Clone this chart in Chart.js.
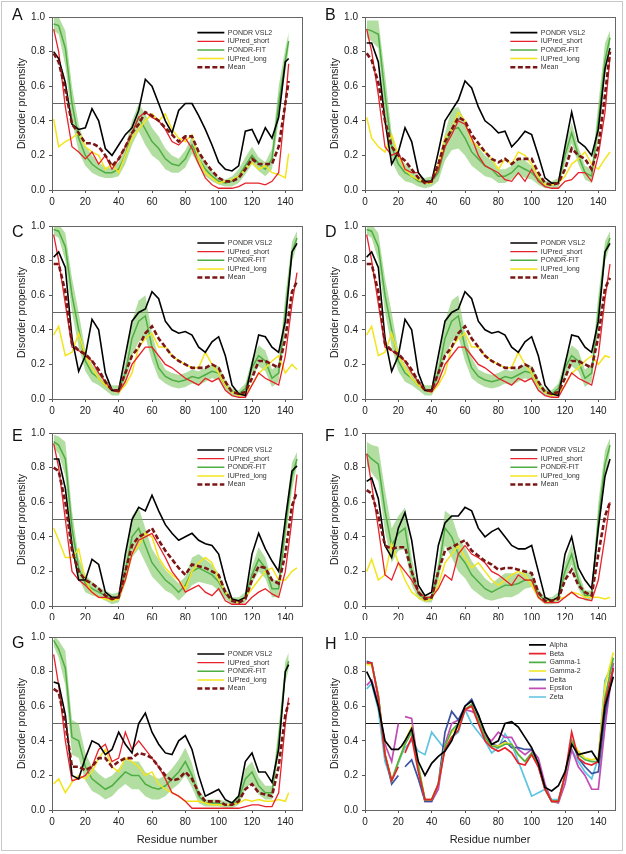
<!DOCTYPE html>
<html>
<head>
<meta charset="utf-8">
<script src="https://cdn.jsdelivr.net/npm/chart.js"></script>
<style>
  body { margin: 0; background: #fff; }
  #figure { position: relative; width: 626px; height: 854px; overflow: hidden; }
  #frame { position: absolute; left: 1px; top: 1px; width: 622px; height: 850px; border: 1px solid #c8c8c8; box-sizing: border-box; }
  #figure canvas { position: absolute; }
</style>
</head>
<body>
<div id="figure"><div id="frame"></div></div>
<script>
// ---- residue grids (x values) ----
const residues142 = [1,4,8,12,16,20,24,28,32,36,40,44,48,52,56,60,64,68,72,76,80,84,88,92,96,100,104,108,112,116,120,124,128,132,136,140,142];
const residues147 = [1,4,8,12,16,20,24,28,32,36,40,44,48,52,56,60,64,68,72,76,80,84,88,92,96,100,104,108,112,116,120,124,128,132,136,140,144,147];
const residuesH = [1,4,8,12,16,20,22,24,28,32,36,40,44,48,52,56,60,64,68,72,76,80,84,88,92,96,100,104,108,112,116,120,124,128,132,136,140,144,149];

const xTickValues = [0,20,40,60,80,100,120,140];
const yTickValues = [0,0.2,0.4,0.6,0.8,1.0];
const thresholdX = [0,150];
const threshold = 0.5;

// ---- panel A ----
const vsl2A = [0.80,0.76,0.62,0.38,0.35, 0.36,0.47,0.40,0.24,0.20, 0.26,0.32,0.36,0.46,0.64, 0.60,0.50,0.40,0.33,0.46, 0.50,0.50,0.43,0.35,0.26, 0.16,0.12,0.11,0.14,0.34, 0.35,0.27,0.36,0.30,0.42, 0.74,0.76];
const iupShortA = [0.93,0.80,0.48,0.25,0.22, 0.18,0.22,0.15,0.20,0.12, 0.18,0.25,0.33,0.42,0.45, 0.42,0.40,0.35,0.28,0.26, 0.30,0.24,0.15,0.07,0.03, 0.01,0.01,0.01,0.02,0.04, 0.04,0.04,0.03,0.05,0.10, 0.50,0.73];
const fitA = [0.96,0.95,0.82,0.50,0.30, 0.20,0.15,0.12,0.10,0.10, 0.12,0.20,0.33,0.42,0.35, 0.28,0.24,0.18,0.15,0.14, 0.18,0.26,0.18,0.12,0.08, 0.05,0.04,0.05,0.08,0.14, 0.20,0.15,0.12,0.18,0.50, 0.75,0.86];
const fitErrA = [0.04,0.05,0.10,0.10,0.08, 0.06,0.05,0.04,0.03,0.03, 0.04,0.05,0.07,0.08,0.09, 0.08,0.07,0.06,0.05,0.04, 0.05,0.05,0.04,0.04,0.03, 0.02,0.02,0.03,0.04,0.05, 0.05,0.04,0.04,0.06,0.10, 0.07,0.05];
const iupLongA = [0.41,0.25,0.28,0.30,0.33, 0.25,0.22,0.20,0.12,0.15, 0.10,0.20,0.30,0.35,0.40, 0.44,0.40,0.44,0.35,0.30, 0.28,0.32,0.18,0.10,0.07, 0.04,0.05,0.06,0.08,0.12, 0.16,0.12,0.14,0.10,0.09, 0.07,0.21];
const meanA = [0.79,0.74,0.58,0.38,0.33, 0.27,0.27,0.25,0.20,0.14, 0.18,0.25,0.33,0.38,0.45, 0.43,0.40,0.36,0.32,0.28, 0.31,0.31,0.22,0.16,0.11, 0.07,0.05,0.05,0.07,0.12, 0.18,0.15,0.15,0.15,0.25, 0.50,0.63];

// ---- panel B ----
const vsl2B = [0.85,0.85,0.74,0.40,0.15, 0.22,0.36,0.28,0.10,0.05, 0.05,0.22,0.40,0.46,0.52, 0.63,0.59,0.48,0.40,0.37, 0.33,0.34,0.25,0.29,0.34, 0.32,0.20,0.07,0.04,0.04, 0.25,0.45,0.28,0.25,0.20, 0.35,0.70,0.82];
const iupShortB = [0.93,0.80,0.55,0.25,0.20, 0.22,0.12,0.10,0.10,0.04, 0.05,0.12,0.25,0.32,0.40, 0.38,0.30,0.20,0.14,0.12, 0.10,0.06,0.05,0.10,0.05, 0.12,0.05,0.02,0.01,0.01, 0.05,0.06,0.10,0.10,0.05, 0.20,0.45,0.77];
const fitB = [0.93,0.92,0.90,0.55,0.25, 0.15,0.10,0.08,0.05,0.04, 0.05,0.10,0.25,0.35,0.36, 0.30,0.22,0.18,0.14,0.12, 0.08,0.08,0.10,0.14,0.12, 0.10,0.06,0.03,0.03,0.04, 0.20,0.33,0.20,0.10,0.08, 0.40,0.75,0.88];
const fitErrB = [0.05,0.06,0.08,0.12,0.08, 0.06,0.05,0.04,0.03,0.03, 0.03,0.05,0.08,0.12,0.12, 0.10,0.08,0.07,0.06,0.05, 0.04,0.04,0.04,0.05,0.05, 0.04,0.03,0.02,0.02,0.03, 0.05,0.06,0.05,0.04,0.04, 0.10,0.10,0.04];
const iupLongB = [0.42,0.30,0.25,0.22,0.32, 0.20,0.12,0.08,0.06,0.04, 0.04,0.15,0.30,0.35,0.45, 0.40,0.28,0.25,0.22,0.18, 0.12,0.18,0.15,0.22,0.20, 0.15,0.08,0.03,0.03,0.04, 0.08,0.15,0.18,0.22,0.15, 0.12,0.18,0.22];
const meanB = [0.79,0.75,0.62,0.40,0.25, 0.20,0.17,0.12,0.07,0.04, 0.05,0.15,0.28,0.35,0.42, 0.40,0.32,0.27,0.22,0.18, 0.16,0.18,0.15,0.18,0.18, 0.18,0.10,0.04,0.03,0.04, 0.12,0.24,0.20,0.18,0.12, 0.25,0.55,0.80];

// ---- panel C ----
const vsl2C = [0.82,0.85,0.76,0.35,0.16, 0.25,0.46,0.40,0.15,0.05, 0.05,0.25,0.45,0.50,0.52, 0.62,0.58,0.45,0.40,0.38, 0.39,0.37,0.30,0.27,0.33, 0.36,0.25,0.08,0.03,0.02, 0.20,0.37,0.36,0.30,0.27, 0.45,0.85,0.90];
const iupShortC = [0.95,0.80,0.55,0.30,0.28, 0.25,0.22,0.15,0.10,0.05, 0.04,0.10,0.20,0.25,0.30, 0.30,0.25,0.20,0.18,0.15, 0.12,0.10,0.08,0.12,0.10, 0.12,0.05,0.02,0.01,0.01, 0.08,0.15,0.12,0.10,0.08, 0.25,0.55,0.73];
const fitC = [0.98,0.97,0.88,0.60,0.40, 0.22,0.15,0.12,0.08,0.05, 0.05,0.15,0.35,0.45,0.48, 0.30,0.18,0.13,0.11,0.10, 0.11,0.13,0.12,0.14,0.16, 0.15,0.08,0.04,0.03,0.06, 0.18,0.25,0.22,0.12,0.15, 0.50,0.85,0.93];
const fitErrC = [0.03,0.04,0.08,0.10,0.10, 0.06,0.05,0.04,0.03,0.03, 0.03,0.06,0.10,0.12,0.12, 0.08,0.06,0.04,0.04,0.04, 0.04,0.04,0.04,0.04,0.04, 0.04,0.03,0.02,0.02,0.03, 0.05,0.06,0.06,0.05,0.05, 0.10,0.06,0.04];
const iupLongC = [0.37,0.42,0.25,0.27,0.38, 0.25,0.18,0.12,0.08,0.05, 0.04,0.08,0.15,0.30,0.35, 0.38,0.30,0.30,0.25,0.22, 0.20,0.18,0.18,0.27,0.20, 0.15,0.08,0.04,0.02,0.03, 0.08,0.15,0.18,0.22,0.25, 0.15,0.20,0.17];
const meanC = [0.78,0.78,0.62,0.32,0.28, 0.26,0.22,0.17,0.10,0.05, 0.05,0.15,0.25,0.30,0.38, 0.42,0.35,0.30,0.25,0.22, 0.20,0.18,0.18,0.18,0.20, 0.18,0.10,0.04,0.03,0.04, 0.12,0.22,0.22,0.20,0.18, 0.35,0.62,0.68];

// ---- panel D ----
const vsl2D = [0.82,0.85,0.76,0.35,0.16, 0.25,0.46,0.40,0.15,0.05, 0.05,0.25,0.45,0.50,0.52, 0.62,0.58,0.45,0.40,0.38, 0.39,0.37,0.30,0.27,0.33, 0.36,0.25,0.08,0.03,0.02, 0.20,0.37,0.36,0.30,0.27, 0.45,0.85,0.90];
const iupShortD = [0.95,0.80,0.55,0.30,0.28, 0.25,0.22,0.15,0.10,0.05, 0.04,0.10,0.20,0.25,0.30, 0.30,0.25,0.20,0.18,0.15, 0.12,0.10,0.08,0.12,0.10, 0.12,0.05,0.02,0.01,0.01, 0.08,0.15,0.12,0.10,0.08, 0.25,0.58,0.78];
const fitD = [0.98,0.97,0.88,0.60,0.40, 0.22,0.15,0.12,0.08,0.05, 0.05,0.15,0.35,0.45,0.48, 0.30,0.18,0.13,0.11,0.10, 0.11,0.13,0.12,0.14,0.16, 0.15,0.08,0.04,0.03,0.06, 0.18,0.25,0.22,0.12,0.15, 0.50,0.85,0.93];
const fitErrD = [0.03,0.04,0.08,0.10,0.10, 0.06,0.05,0.04,0.03,0.03, 0.03,0.06,0.10,0.12,0.12, 0.08,0.06,0.04,0.04,0.04, 0.04,0.04,0.04,0.04,0.04, 0.04,0.03,0.02,0.02,0.03, 0.05,0.06,0.06,0.05,0.05, 0.10,0.06,0.04];
const iupLongD = [0.37,0.42,0.25,0.27,0.38, 0.25,0.18,0.12,0.08,0.05, 0.04,0.08,0.15,0.30,0.35, 0.38,0.30,0.30,0.25,0.22, 0.20,0.18,0.18,0.27,0.20, 0.15,0.08,0.04,0.02,0.03, 0.08,0.15,0.18,0.22,0.25, 0.20,0.25,0.24];
const meanD = [0.78,0.78,0.62,0.32,0.28, 0.26,0.22,0.17,0.10,0.05, 0.05,0.15,0.25,0.30,0.38, 0.42,0.35,0.30,0.25,0.22, 0.20,0.18,0.18,0.18,0.20, 0.18,0.10,0.04,0.03,0.04, 0.12,0.22,0.22,0.20,0.18, 0.36,0.64,0.70];

// ---- panel E ----
const vsl2E = [0.85,0.85,0.68,0.35,0.15, 0.15,0.27,0.24,0.08,0.05, 0.05,0.30,0.50,0.57,0.55, 0.64,0.55,0.47,0.42,0.38, 0.40,0.42,0.38,0.36,0.35, 0.30,0.15,0.04,0.03,0.05, 0.30,0.42,0.33,0.26,0.20, 0.50,0.78,0.81];
const iupShortE = [0.94,0.80,0.50,0.20,0.15, 0.12,0.08,0.05,0.05,0.04, 0.05,0.15,0.30,0.38,0.40, 0.42,0.35,0.28,0.20,0.15, 0.08,0.10,0.12,0.08,0.06, 0.10,0.03,0.01,0.01,0.01, 0.05,0.08,0.10,0.07,0.05, 0.20,0.50,0.76];
const fitE = [0.95,0.93,0.85,0.45,0.22, 0.13,0.10,0.08,0.06,0.04, 0.05,0.20,0.40,0.45,0.35, 0.25,0.20,0.15,0.12,0.08, 0.12,0.20,0.22,0.20,0.18, 0.14,0.07,0.03,0.03,0.05, 0.18,0.27,0.22,0.10,0.10, 0.45,0.75,0.85];
const fitErrE = [0.04,0.05,0.10,0.10,0.06, 0.05,0.04,0.03,0.03,0.03, 0.03,0.07,0.12,0.12,0.10, 0.08,0.07,0.06,0.05,0.05, 0.05,0.08,0.08,0.07,0.06, 0.05,0.03,0.02,0.02,0.03, 0.05,0.07,0.06,0.05,0.05, 0.08,0.08,0.04];
const iupLongE = [0.45,0.38,0.28,0.28,0.33, 0.15,0.08,0.05,0.04,0.03, 0.04,0.15,0.30,0.35,0.42, 0.40,0.28,0.22,0.18,0.15, 0.10,0.20,0.25,0.28,0.25, 0.15,0.08,0.03,0.02,0.05, 0.10,0.15,0.20,0.22,0.15, 0.15,0.20,0.22];
const meanE = [0.80,0.78,0.60,0.32,0.20, 0.15,0.13,0.10,0.06,0.04, 0.05,0.20,0.35,0.40,0.42, 0.45,0.38,0.32,0.27,0.22, 0.18,0.24,0.23,0.22,0.20, 0.18,0.08,0.03,0.02,0.04, 0.15,0.23,0.22,0.15,0.13, 0.30,0.58,0.66];

// ---- panel F ----
const vsl2F = [0.72,0.74,0.62,0.35,0.28, 0.45,0.54,0.38,0.12,0.06, 0.08,0.35,0.48,0.52,0.52, 0.57,0.55,0.45,0.40,0.43, 0.45,0.40,0.35,0.33,0.33, 0.35,0.20,0.05,0.03,0.05, 0.30,0.40,0.22,0.15,0.10, 0.45,0.75,0.85];
const iupShortF = [0.88,0.70,0.45,0.18,0.15, 0.25,0.20,0.15,0.08,0.05, 0.05,0.10,0.18,0.15,0.30, 0.35,0.30,0.28,0.25,0.20, 0.18,0.15,0.12,0.18,0.15, 0.15,0.05,0.02,0.02,0.02, 0.05,0.08,0.05,0.04,0.03, 0.15,0.40,0.60];
const fitF = [0.88,0.85,0.82,0.55,0.35, 0.42,0.45,0.20,0.07,0.04, 0.04,0.20,0.45,0.40,0.30, 0.25,0.18,0.14,0.10,0.08, 0.10,0.12,0.12,0.13,0.15, 0.15,0.07,0.03,0.03,0.05, 0.20,0.30,0.15,0.06,0.06, 0.50,0.82,0.93];
const fitErrF = [0.07,0.08,0.10,0.12,0.10, 0.10,0.12,0.08,0.03,0.02, 0.02,0.06,0.10,0.12,0.10, 0.09,0.08,0.07,0.06,0.05, 0.06,0.07,0.07,0.06,0.05, 0.04,0.03,0.02,0.02,0.03, 0.05,0.06,0.05,0.03,0.03, 0.10,0.08,0.04];
const iupLongF = [0.20,0.27,0.15,0.18,0.36, 0.25,0.15,0.08,0.05,0.03, 0.04,0.12,0.25,0.30,0.35, 0.28,0.22,0.25,0.20,0.15, 0.12,0.15,0.18,0.20,0.18, 0.12,0.05,0.02,0.03,0.04, 0.05,0.08,0.07,0.05,0.05, 0.05,0.04,0.05];
const meanF = [0.67,0.65,0.52,0.35,0.33, 0.34,0.34,0.20,0.08,0.04, 0.05,0.20,0.32,0.34,0.36, 0.38,0.32,0.29,0.26,0.24, 0.21,0.22,0.22,0.21,0.20, 0.19,0.08,0.03,0.03,0.04, 0.15,0.21,0.12,0.08,0.06, 0.30,0.52,0.60];

// ---- panel G ----
const vsl2G = [0.74,0.73,0.55,0.20,0.18, 0.30,0.40,0.38,0.32,0.35, 0.45,0.38,0.33,0.50,0.56, 0.45,0.38,0.33,0.32,0.40, 0.43,0.35,0.20,0.08,0.10, 0.12,0.06,0.04,0.08,0.28, 0.33,0.22,0.22,0.16,0.35, 0.80,0.84];
const iupShortG = [0.90,0.72,0.40,0.17,0.18, 0.20,0.25,0.35,0.38,0.28, 0.30,0.45,0.35,0.40,0.35, 0.30,0.25,0.18,0.10,0.08, 0.05,0.01,0.01,0.01,0.01, 0.01,0.01,0.01,0.01,0.02, 0.03,0.03,0.02,0.02,0.10, 0.50,0.65];
const fitG = [0.98,0.93,0.82,0.42,0.40, 0.25,0.18,0.15,0.12,0.14, 0.18,0.22,0.20,0.20,0.15, 0.13,0.12,0.14,0.18,0.22, 0.28,0.20,0.08,0.04,0.04, 0.04,0.03,0.03,0.06,0.18, 0.22,0.14,0.10,0.10,0.40, 0.80,0.86];
const fitErrG = [0.03,0.05,0.10,0.10,0.10, 0.08,0.07,0.06,0.06,0.06, 0.06,0.07,0.08,0.08,0.07, 0.07,0.06,0.06,0.06,0.07, 0.08,0.07,0.04,0.02,0.02, 0.02,0.02,0.02,0.03,0.06, 0.06,0.05,0.04,0.04,0.08, 0.06,0.05];
const iupLongG = [0.15,0.18,0.10,0.16,0.20, 0.18,0.22,0.30,0.35,0.25, 0.22,0.30,0.28,0.25,0.20, 0.22,0.15,0.12,0.10,0.08, 0.05,0.05,0.05,0.04,0.03, 0.03,0.03,0.03,0.04,0.06, 0.05,0.06,0.05,0.05,0.06, 0.05,0.10];
const meanG = [0.70,0.68,0.50,0.25,0.25, 0.23,0.25,0.30,0.30,0.25, 0.28,0.30,0.30,0.33,0.32, 0.30,0.25,0.20,0.17,0.18, 0.22,0.18,0.10,0.05,0.05, 0.05,0.03,0.03,0.05,0.12, 0.15,0.10,0.09,0.08,0.25, 0.55,0.62];

// ---- panel H (null = alignment gap) ----
const alphaH = [0.80,0.74,0.60,0.40,0.35, 0.35,0.37,0.40,0.47,0.28, 0.20,0.27,0.31,0.34,0.40, 0.50,0.60,0.63,0.55,0.45, 0.38,0.40,0.50,0.51,0.48, 0.42,0.36,0.27,0.13,0.11, 0.14,0.22,0.38,0.32,0.33, 0.34,0.28,0.60,0.77];
const betaH = [0.85,0.85,0.65,0.32,0.17, 0.25,null,0.33,0.42,0.22, 0.06,0.06,0.15,0.35,0.42, 0.46,0.58,0.60,0.50,0.40, 0.36,0.34,0.36,0.33,0.27, 0.26,0.32,0.25,0.12,0.05, 0.05,0.20,0.45,0.30,0.27, 0.26,0.28,0.62,0.82];
const gamma1H = [0.85,0.85,0.66,0.32,0.17, 0.28,0.33,0.38,0.45,0.25, 0.06,0.06,0.15,0.37,0.46, 0.50,0.58,0.61,0.52,0.42, 0.37,0.36,0.38,0.38,0.32, 0.28,0.33,0.26,0.12,0.05, 0.05,0.20,0.40,0.32,0.29, 0.28,0.28,0.65,0.88];
const gamma2H = [0.84,0.84,0.66,0.33,0.17, 0.28,0.33,0.40,0.48,0.26, 0.06,0.06,0.15,0.37,0.45, 0.48,0.58,0.60,0.52,0.42, 0.37,0.37,0.39,0.38,0.32, 0.28,0.32,0.26,0.12,0.05, 0.05,0.20,0.40,0.34,0.30, 0.29,0.30,0.72,0.91];
const deltaH = [0.86,0.85,0.66,0.32,0.15, 0.20,null,0.25,0.29,0.18, 0.05,0.05,0.15,0.45,0.57, 0.52,0.60,0.64,0.55,0.42, 0.38,0.37,0.40,0.36,0.36, 0.35,0.35,0.26,0.12,0.05, 0.05,0.20,0.40,0.30,0.25, 0.21,0.22,0.55,0.82];
const epsilonH = [0.72,0.75,0.62,0.38,0.28, 0.50,null,0.54,0.53,0.25, 0.05,0.05,0.12,0.38,0.50, 0.52,0.58,0.57,0.55,0.43, 0.40,0.45,0.42,0.42,0.35, 0.32,0.35,0.30,0.15,0.05, 0.04,0.15,0.35,0.25,0.20, 0.12,0.12,0.48,0.85];
const zetaH = [0.70,0.73,0.58,0.28,0.17, 0.27,0.32,0.36,0.40,0.34, 0.32,0.45,0.40,0.35,0.42, 0.45,0.58,0.50,0.45,0.40, 0.33,0.36,0.44,0.38,0.28, 0.18,0.08,0.10,0.12,0.06, 0.06,0.20,0.35,0.28,0.22, 0.18,0.30,0.75,0.85];

// ---- panels ----
const predictorPanels = [
  { letter: 'A', col: 0, row: 0, res: residues142, vsl2: vsl2A, iupShort: iupShortA, fit: fitA, fitErr: fitErrA, iupLong: iupLongA, mean: meanA },
  { letter: 'B', col: 1, row: 0, res: residues147, vsl2: vsl2B, iupShort: iupShortB, fit: fitB, fitErr: fitErrB, iupLong: iupLongB, mean: meanB },
  { letter: 'C', col: 0, row: 1, res: residues147, vsl2: vsl2C, iupShort: iupShortC, fit: fitC, fitErr: fitErrC, iupLong: iupLongC, mean: meanC },
  { letter: 'D', col: 1, row: 1, res: residues147, vsl2: vsl2D, iupShort: iupShortD, fit: fitD, fitErr: fitErrD, iupLong: iupLongD, mean: meanD },
  { letter: 'E', col: 0, row: 2, res: residues147, vsl2: vsl2E, iupShort: iupShortE, fit: fitE, fitErr: fitErrE, iupLong: iupLongE, mean: meanE },
  { letter: 'F', col: 1, row: 2, res: residues147, vsl2: vsl2F, iupShort: iupShortF, fit: fitF, fitErr: fitErrF, iupLong: iupLongF, mean: meanF },
  { letter: 'G', col: 0, row: 3, res: residues142, vsl2: vsl2G, iupShort: iupShortG, fit: fitG, fitErr: fitErrG, iupLong: iupLongG, mean: meanG }
];
const variantSeries = [
  { label: 'Alpha', data: alphaH },
  { label: 'Beta', data: betaH },
  { label: 'Gamma-1', data: gamma1H },
  { label: 'Gamma-2', data: gamma2H },
  { label: 'Delta', data: deltaH },
  { label: 'Epsilon', data: epsilonH },
  { label: 'Zeta', data: zetaH }
];

// ---- styling / layout ----
const variantColors = ['#000000', '#e8222a', '#4fb047', '#f2e41a', '#3a52a2', '#c24cb6', '#5cc3e0'];
const FONT = "'Liberation Sans', Arial, sans-serif";
Chart.defaults.font.family = FONT;
Chart.defaults.font.size = 10;
Chart.defaults.color = '#222';
Chart.defaults.animation = false;

const colLeft = [0, 313];
const rowTop = [0, 209, 416, 620];
const rowHeight = [209, 207, 204, 234];
const letterY = [16, 24, 21, 24];
const PLOT_TOP = 17, PLOT_H = 173, Y_AXIS_W = 52, PAD_RIGHT = 11;

const fig = document.getElementById('figure');
const pts = (res, vals) => res.map((x, i) => ({ x: x, y: vals[i] }));

// box around plot area
const framePlugin = {
  id: 'frame',
  afterDatasetsDraw(chart) {
    const { ctx, chartArea: a } = chart;
    ctx.save();
    ctx.strokeStyle = '#666';
    ctx.lineWidth = 1;
    ctx.strokeRect(Math.round(a.left) + 0.5, Math.round(a.top) + 0.5, Math.round(a.width), Math.round(a.height));
    ctx.restore();
  }
};

const letterPlugin = (letter, y) => ({
  id: 'panelLetter',
  afterDraw(chart) {
    const ctx = chart.ctx;
    ctx.save();
    ctx.font = '16px ' + FONT;
    ctx.fillStyle = '#111';
    ctx.textBaseline = 'middle';
    ctx.fillText(letter, 12, y);
    ctx.restore();
  }
});

// move the in-plot legend to the upper right
const legendPlacer = (dx, dy) => ({
  id: 'legendPlacer',
  afterLayout(chart) {
    const lg = chart.legend, a = chart.chartArea;
    lg.left = a.left + dx; lg.right = lg.left + 200;
    lg.top = a.top + dy; lg.bottom = lg.top + 160;
  }
});

function line(label, data, color, width, order) {
  return { label, data, borderColor: color, backgroundColor: color, borderWidth: width,
           pointRadius: 0, tension: 0, fill: false, order, inLegend: true };
}

function thresholdSet(color) {
  return { data: thresholdX.map(x => ({ x, y: threshold })), borderColor: color, borderWidth: 1.2,
           pointRadius: 0, fill: false, order: 9, inLegend: false };
}

function makeChart(letter, col, row, datasets, legend) {
  const c = document.createElement('canvas');
  c.width = 313; c.height = rowHeight[row];
  c.style.left = colLeft[col] + 'px';
  c.style.top = rowTop[row] + 'px';
  fig.appendChild(c);
  const bottomRow = row === 3;
  const xAxisH = rowHeight[row] - PLOT_TOP - PLOT_H;

  new Chart(c, {
    type: 'line',
    data: { datasets },
    options: {
      responsive: false,
      animation: false,
      layout: { padding: { top: PLOT_TOP, right: PAD_RIGHT, left: 0, bottom: 0 } },
      scales: {
        x: {
          type: 'linear', min: 0, max: 150,
          afterBuildTicks: s => { s.ticks = xTickValues.map(v => ({ value: v })); },
          afterFit: s => { s.height = xAxisH; },
          ticks: { autoSkip: false, maxRotation: 0, padding: 3, color: '#222', font: { size: 10 } },
          grid: { drawOnChartArea: false, drawTicks: true, tickLength: 3, color: '#555' },
          border: { color: '#555' },
          title: { display: bottomRow, text: 'Residue number', color: '#222', font: { size: 11 },
                   padding: { top: 0, bottom: 7.4 } }
        },
        y: {
          min: 0, max: 1,
          afterBuildTicks: s => { s.ticks = yTickValues.map(v => ({ value: v })); },
          afterFit: s => { s.width = Y_AXIS_W; },
          ticks: { padding: 4, color: '#222', font: { size: 10 }, callback: v => v.toFixed(1) },
          grid: { drawOnChartArea: false, drawTicks: true, tickLength: 3, color: '#555' },
          border: { color: '#555' },
          title: { display: true, text: 'Disorder propensity', color: '#222', font: { size: 10.5 },
                   padding: { top: 15.7, bottom: 0 } }
        }
      },
      plugins: {
        tooltip: { enabled: false },
        legend: {
          position: 'chartArea',
          align: 'start',
          labels: {
            usePointStyle: true,
            pointStyleWidth: legend.lineW,
            font: { size: 7 },
            padding: legend.pad,
            generateLabels: chart => chart.data.datasets
              .map((ds, i) => ({ text: ds.label, strokeStyle: ds.borderColor, fillStyle: ds.borderColor,
                                 lineWidth: Math.min(ds.borderWidth, 2.4), lineDash: ds.borderDash || [],
                                 pointStyle: 'line', fontColor: '#333', hidden: false, datasetIndex: i,
                                 inLegend: ds.inLegend }))
              .filter(item => item.inLegend)
          }
        }
      }
    },
    plugins: [framePlugin, letterPlugin(letter, letterY[row] + (letter === 'H' ? 1 : 0)), legendPlacer(legend.dx, legend.dy)]
  });
}

predictorPanels.forEach(p => {
  const upper = p.fit.map((v, i) => v + p.fitErr[i]);
  const lower = p.fit.map((v, i) => v - p.fitErr[i]);
  const mean = line('Mean', pts(p.res, p.mean), '#7b1616', 2.6, 0);
  mean.borderDash = [5, 2.5];
  const datasets = [
    line('PONDR VSL2', pts(p.res, p.vsl2), '#000000', 1.6, 1),
    line('IUPred_short', pts(p.res, p.iupShort), '#e8222a', 1.3, 2),
    line('PONDR-FIT', pts(p.res, p.fit), '#4fae43', 1.5, 4),
    line('IUPred_long', pts(p.res, p.iupLong), '#f3e41c', 1.5, 3),
    mean,
    { data: pts(p.res, upper), borderWidth: 0, pointRadius: 0, fill: false, order: 8, inLegend: false },
    { data: pts(p.res, lower), borderWidth: 0, pointRadius: 0, fill: '-1',
      backgroundColor: 'rgba(128,200,100,0.6)', order: 8, inLegend: false },
    thresholdSet('#666')
  ];
  makeChart(p.letter, p.col, p.row, datasets, { lineW: 27, pad: 1.65, dx: 143.7, dy: p.row === 0 ? 10.5 : 11.8 });
});

const hSets = variantSeries.map((s, i) => line(s.label, pts(residuesH, s.data), variantColors[i], 1.7, 1));
hSets.push(thresholdSet('#111'));
makeChart('H', 1, 3, hSets, { lineW: 17, pad: 1.67, dx: 162.3, dy: 2.8 });
</script>
</body>
</html>
